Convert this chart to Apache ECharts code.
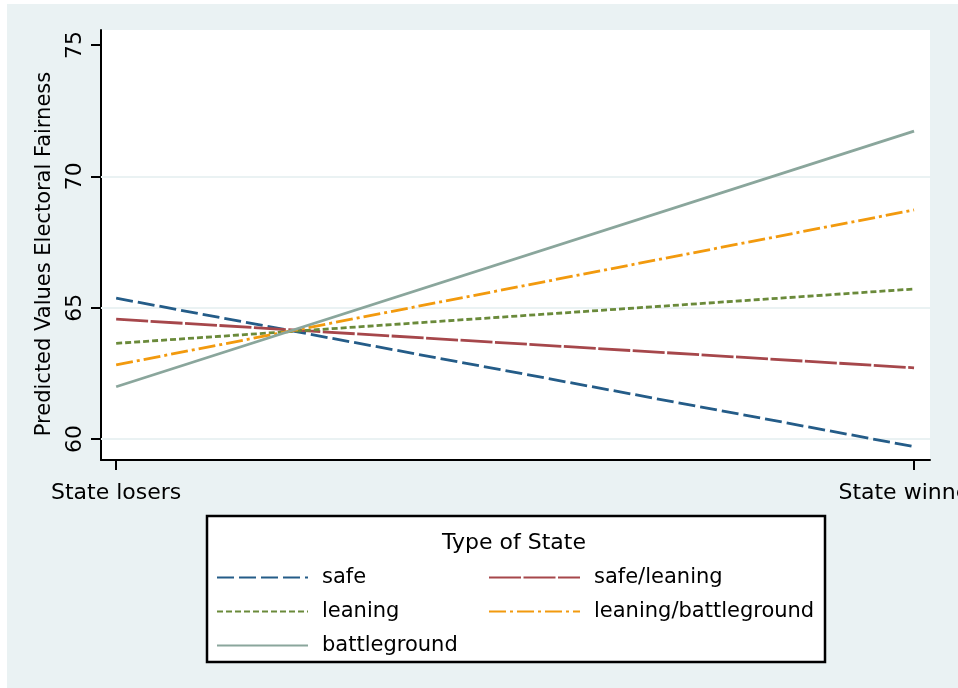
<!DOCTYPE html>
<html>
<head>
<meta charset="utf-8">
<script src="https://cdn.jsdelivr.net/npm/echarts@6/dist/echarts.min.js"></script>
<style>
  html, body { margin: 0; padding: 0; background: #ffffff; }
  #chart { width: 958px; height: 688px; }
</style>
</head>
<body>
<div id="chart"></div>
<script>
// Predicted electoral fairness by state outcome, one line per type of state
const categories = ['State losers', 'State winners'];
const xPositions = [0, 1];
const yTicks = [60, 65, 70, 75];
const gridValues = [60, 65, 70];

const seriesNames = ['safe', 'safe/leaning', 'leaning', 'leaning/battleground', 'battleground'];
const safeVals = [65.36, 59.71];
const safeLeaningVals = [64.56, 62.71];
const leaningVals = [63.64, 65.71];
const leaningBattleVals = [62.82, 68.72];
const battleVals = [61.99, 71.72];

const FONT = 'DejaVu Sans';
const BG = '#EAF2F3';

const styles = [
  { color: '#245C88', type: [17, 5] },
  { color: '#A6474B', type: [32, 2.5] },
  { color: '#6A8A3A', type: [6, 3] },
  { color: '#F29A0E', type: [17, 4, 3, 4] },
  { color: '#8AA69C', type: 'solid' }
];
const valueSets = [safeVals, safeLeaningVals, leaningVals, leaningBattleVals, battleVals];

const series = seriesNames.map((name, i) => ({
  name: name,
  type: 'line',
  symbol: 'none',
  data: xPositions.map((x, j) => [x, valueSets[i][j]]),
  lineStyle: { color: styles[i].color, width: 2.8, type: styles[i].type },
  itemStyle: { color: styles[i].color },
  z: 3
}));

// light horizontal grid lines at the labelled values below the top
series[0].markLine = {
  silent: true,
  symbol: 'none',
  z: 1,
  label: { show: false },
  lineStyle: { color: BG, width: 2, type: 'solid' },
  emphasis: { disabled: true },
  data: gridValues.map(v => ({ yAxis: v }))
};

const chart = echarts.init(document.getElementById('chart'), null, { renderer: 'canvas' });

const legendCommon = {
  orient: 'vertical',
  padding: 0,
  itemWidth: 91,
  itemHeight: 20,
  itemGap: 13,
  selectedMode: false,
  itemStyle: { opacity: 0 },
  textStyle: { fontFamily: FONT, fontSize: 21, color: '#000', lineHeight: 20, padding: [0, 0, 0, 9] }
};

chart.setOption({
  backgroundColor: '#ffffff',
  animation: false,
  graphic: [
    { type: 'rect', z: -10, shape: { x: 7, y: 4, width: 951, height: 684 }, style: { fill: BG } },
    { type: 'rect', z: -9, shape: { x: 101, y: 30, width: 829, height: 430 }, style: { fill: '#ffffff' } },
    { type: 'rect', z: -9, shape: { x: 207, y: 516, width: 618, height: 146 },
      style: { fill: '#ffffff', stroke: '#000000', lineWidth: 2.5 } },
    { type: 'text', z: 10, x: 514, y: 543, style: {
        text: 'Type of State', font: '22px "DejaVu Sans"', fill: '#000',
        align: 'center', verticalAlign: 'middle' } }
  ],
  grid: { left: 101, right: 28, top: 30, bottom: 228, containLabel: false, outerBoundsMode: 'none' },
  xAxis: {
    type: 'value',
    min: -0.019,
    max: 1.02,
    axisLine: { show: true, onZero: false, lineStyle: { color: '#000', width: 2 } },
    axisTick: { show: true, customValues: xPositions, length: 10, lineStyle: { color: '#000', width: 2 } },
    axisLabel: {
      customValues: xPositions,
      formatter: v => categories[xPositions.indexOf(v)] || '',
      fontFamily: FONT, fontSize: 22, color: '#000', margin: 22, hideOverlap: false
    },
    splitLine: { show: false }
  },
  yAxis: {
    type: 'value',
    min: 59.2,
    max: 75.57,
    name: 'Predicted Values Electoral Fairness',
    nameLocation: 'middle',
    nameRotate: 90,
    nameGap: 46,
    nameTextStyle: { fontFamily: FONT, fontSize: 21, color: '#000', padding: [0, 18, 0, 0] },
    axisLine: { show: true, onZero: false, lineStyle: { color: '#000', width: 2 } },
    axisTick: { show: true, customValues: yTicks, length: 10, lineStyle: { color: '#000', width: 2 } },
    axisLabel: {
      customValues: yTicks,
      rotate: 90,
      fontFamily: FONT, fontSize: 22, color: '#000', margin: 15
    },
    splitLine: { show: false }
  },
  legend: [
    Object.assign({}, legendCommon, {
      left: 216, top: 567,
      data: ['safe', 'leaning', 'battleground']
    }),
    Object.assign({}, legendCommon, {
      left: 488, top: 567,
      data: ['safe/leaning', 'leaning/battleground']
    })
  ],
  series: series
});
</script>
</body>
</html>
